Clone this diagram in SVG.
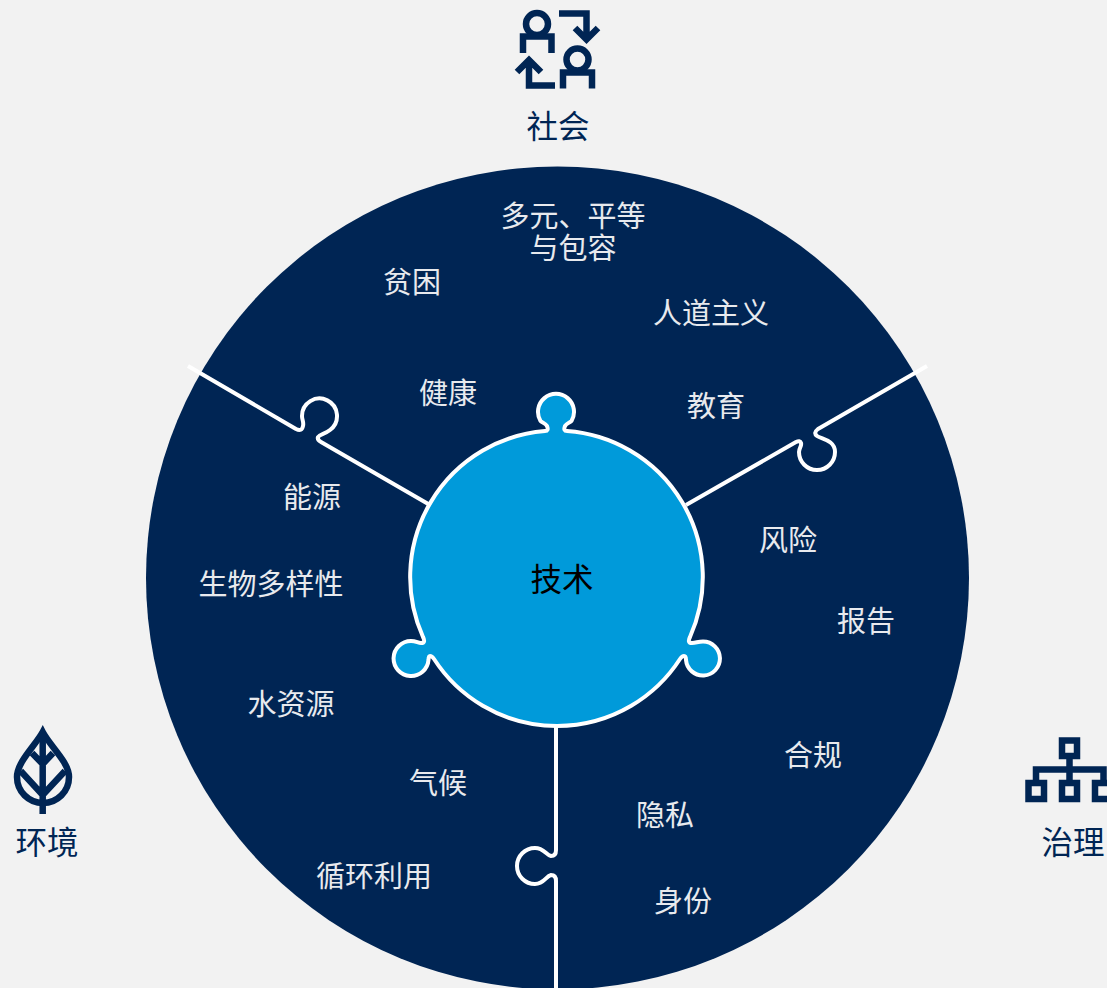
<svg xmlns="http://www.w3.org/2000/svg" width="1107" height="988" viewBox="0 0 1107 988">
<style>
text{font-family:"Noto Sans CJK SC","Liberation Serif",serif;text-anchor:middle}
.l{font-size:29px;fill:#e8eaee}
.t{font-size:31.5px;fill:#002554}
.i{fill:none;stroke:#002554;stroke-width:6.5}
.c{fill:none;stroke:#fff;stroke-width:4;stroke-linejoin:round}
</style>
<rect width="1107" height="988" fill="#f2f2f2"/>
<circle id="ring" cx="557.500" cy="578" r="411.500" fill="#002554"/>
<g id="connectors" class="c">
<path d="M188,366 L296,429 Q302,432 303,426 C304,422 302,420 302,416 A17.500,17.500 0 1 1 330,430 C325,434 320,434 318,437 Q317,440 321,442 L430,505"/>
<path d="M927,366 L818,429 Q813,433 817,436 C821,439 835,440 835,452 A18,18 0 1 1 799,452 C799,448 802,446 801,443 Q800,440 796,442 L686,505"/>
<path d="M556,725 L556,850 Q556,856 551,856 C546,855 544,848 535,848 A18,18 0 1 0 535,884 C544,884 546,876 551,875 Q556,875 556,881 L556,988"/>
</g>
<g id="tech">
<path d="M567,431 A146.500,146.500 0 0 1 690,637 Q687,643 692,643 C696,643 698,641.500 703,641.500 A17,17 0 1 1 686,660 C686,658 686,656 684,656 Q682,656 680,659 A146.500,146.500 0 0 1 434,659 Q432,656 430,656 C428.500,656 428.500,658 428.500,660 A17.500,17.500 0 1 1 411,641 C416,641 418,643 421,643 Q426,643 423,637 A146.500,146.500 0 0 1 545,431 Q549,431 547,426 C546,424 543,423 540.500,421 A18,18 0 1 1 571.500,421 C569,423 566,424 565,426 Q563,431 567,431 Z" fill="#009ada" stroke="#fff" stroke-width="4" stroke-linejoin="round"/>
<text x="562" y="591" style="font-size:31.500px;fill:#000">技术</text>
</g>
<g id="labels">
<text class="l" x="573" y="227">多元、平等</text>
<text class="l" x="573" y="259">与包容</text>
<text class="l" x="412" y="293">贫困</text>
<text class="l" x="711" y="324">人道主义</text>
<text class="l" x="448" y="404">健康</text>
<text class="l" x="716" y="417">教育</text>
<text class="l" x="312" y="508">能源</text>
<text class="l" x="788" y="551">风险</text>
<text class="l" x="271" y="595">生物多样性</text>
<text class="l" x="866" y="632">报告</text>
<text class="l" x="291" y="715">水资源</text>
<text class="l" x="813" y="766">合规</text>
<text class="l" x="438" y="794">气候</text>
<text class="l" x="665" y="826">隐私</text>
<text class="l" x="374" y="887">循环利用</text>
<text class="l" x="683" y="912">身份</text>
</g>
<g id="social">
<g class="i">
<circle cx="537" cy="24" r="11"/><path d="M523,53V36.500H551.500V53"/>
<path d="M559,13.500H586.500V38M575,28L586.500,39.500L598,28"/>
<circle cx="577.500" cy="59.500" r="11"/><path d="M563,88.500V72.500H592V88.500"/>
<path d="M555,85.500H529V60.500M517,72L529,60L541,72"/>
</g>
<text class="t" x="558" y="138">社会</text>
</g>
<g id="env">
<g class="i">
<path d="M42.700,732C35,746,17,762,17,777A26,26 0 0 0 69,777C69,762,50,746,42.700,732Z"/>
<path d="M42.700,732V814M32,753L42.700,764L53,753M20.700,771L42.700,795L65,771"/>
</g>
<text class="t" x="47" y="854">环境</text>
</g>
<g id="gov">
<g class="i">
<rect x="1062" y="740.500" width="15" height="15.500"/>
<path d="M1069.500,759V780M1036,780V769.500H1103.500V780"/>
<rect x="1028.500" y="783" width="15.500" height="16"/>
<rect x="1062" y="783" width="15" height="16"/>
<rect x="1095" y="783" width="16" height="16"/>
</g>
<text class="t" x="1073" y="854">治理</text>
</g>
</svg>
